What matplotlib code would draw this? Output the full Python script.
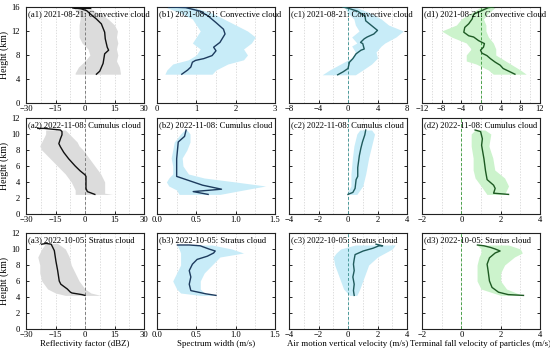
import matplotlib
matplotlib.use("Agg")
import matplotlib.pyplot as plt
from matplotlib.ticker import MultipleLocator

# === DATA ===
panel_titles = [
    ["(a1) 2021-08-21: Convective cloud", "(b1) 2021-08-21: Convective cloud",
     "(c1) 2021-08-21: Convective cloud", "(d1) 2021-08-21: Convective cloud"],
    ["(a2) 2022-11-08: Cumulus cloud", "(b2) 2022-11-08: Cumulus cloud",
     "(c2) 2022-11-08: Cumulus cloud", "(d2) 2022-11-08: Cumulus cloud"],
    ["(a3) 2022-10-05: Stratus cloud", "(b3) 2022-10-05: Stratus cloud",
     "(c3) 2022-10-05: Stratus cloud", "(d3) 2022-10-05: Stratus cloud"],
]
x_labels = ["Reflectivity factor (dBZ)", "Spectrum width (m/s)",
            "Air motion vertical velocity (m/s)",
            "Terminal fall velocity of particles (m/s)"]

# --- row 1: convective cloud ---
a1_line_h = [4.8, 5.3, 6.6, 8.2, 8.8, 9.3, 10.7, 11.8, 13.2, 14.0, 14.9, 15.4, 15.7, 15.9, 15.8, 16.0]
a1_line_x = [5.8, 7.5, 9.2, 10.0, 12.0, 11.3, 10.3, 10.0, 8.3, 5.8, 2.5, 0.8, -2.0, -6.5, 3.0, -5.0]
a1_band_h = [4.8, 5.0, 6.0, 7.0, 8.0, 9.0, 9.5, 10.0, 11.0, 12.0, 13.0, 14.0, 14.5, 15.0, 15.5, 16.0]
a1_band_lo = [-5.0, -5.0, -3.3, 0.0, 2.5, 1.5, 0.0, -1.5, -3.0, -3.0, -3.0, -2.5, -2.5, -3.5, -5.0, -6.0]
a1_band_hi = [18.0, 18.0, 17.5, 16.0, 16.7, 16.0, 16.3, 16.7, 16.0, 16.5, 15.0, 11.7, 9.5, 6.7, 4.0, 2.0]

b1_line_h = [4.8, 5.5, 6.0, 6.8, 7.1, 7.4, 7.9, 8.7, 9.3, 10.1, 11.5, 12.3, 13.4, 14.5, 15.3, 15.9, 16.0]
b1_line_x = [0.63, 0.78, 0.86, 0.90, 0.98, 1.19, 1.40, 1.50, 1.44, 1.60, 1.73, 1.69, 1.50, 1.30, 1.10, 0.73, 0.30]
b1_band_h = [4.8, 5.5, 6.5, 7.2, 8.0, 9.0, 10.0, 11.0, 12.0, 13.0, 14.0, 15.0, 16.0]
b1_band_lo = [0.20, 0.25, 0.40, 0.80, 1.00, 1.10, 0.90, 1.00, 1.10, 1.00, 0.90, 0.60, 0.20]
b1_band_hi = [1.40, 1.50, 1.80, 2.20, 2.30, 2.20, 2.40, 2.50, 2.30, 2.00, 1.70, 1.40, 0.90]

c1_line_h = [4.7, 5.2, 5.75, 6.8, 7.4, 8.2, 8.8, 9.0, 9.9, 10.1, 10.7, 11.0, 11.5, 12.1, 12.6, 13.2, 13.7, 14.5, 15.3, 15.8, 16.0]
c1_line_x = [-1.4, -0.66, 0.0, 0.2, 0.66, 1.1, 1.76, 2.2, 2.0, 1.7, 2.2, 2.6, 3.5, 4.0, 3.5, 2.9, 2.4, 2.3, 1.3, 0.0, -0.7]
c1_band_h = [4.7, 5.5, 6.5, 7.5, 8.5, 9.5, 10.0, 11.0, 12.0, 13.0, 14.0, 15.0, 16.0]
c1_band_lo = [-3.5, -2.5, -1.0, 0.5, 1.0, 0.5, 1.2, 0.5, 1.5, 1.0, 0.8, 0.0, -0.5]
c1_band_hi = [1.0, 2.0, 3.2, 4.0, 3.8, 4.5, 5.0, 6.5, 7.5, 5.5, 4.5, 3.0, 1.0]

d1_line_h = [4.8, 5.2, 5.75, 6.3, 6.8, 7.4, 7.9, 8.3, 8.8, 9.3, 9.9, 10.4, 11.0, 11.2, 11.8, 12.6, 13.2, 14.0, 14.8, 15.3, 15.9, 16.0]
d1_line_x = [6.9, 5.9, 4.5, 3.9, 2.9, 1.9, 1.2, 0.2, -0.1, 0.5, 0.7, -0.5, -1.5, -2.5, -3.5, -3.3, -2.5, -1.8, -1.5, -0.1, 1.5, 2.5]
d1_band_h = [4.8, 5.5, 6.5, 7.0, 8.0, 9.0, 10.0, 11.0, 12.0, 13.0, 14.0, 15.0, 16.0]
d1_band_lo = [2.5, 1.5, -1.0, -3.0, -3.0, -2.0, -3.0, -6.0, -8.0, -5.0, -4.0, -2.0, 0.0]
d1_band_hi = [9.2, 8.0, 6.0, 5.0, 3.0, 3.0, 2.5, 1.5, 1.0, 1.0, 0.5, 1.5, 3.0]

# --- row 2: cumulus cloud ---
a2_line_h = [2.45, 2.8, 3.2, 4.7, 4.9, 5.4, 6.0, 6.9, 7.7, 8.4, 8.8, 9.4, 9.9, 10.3, 10.5, 10.7, 10.7]
a2_line_x = [5.0, 1.2, 0.5, 0.5, 0.0, -2.5, -5.0, -8.3, -10.8, -12.5, -13.3, -12.5, -11.7, -11.7, -12.5, -20.8, -24.0]
a2_band_h = [2.45, 2.6, 3.0, 4.0, 5.0, 6.0, 7.0, 8.0, 8.5, 9.0, 10.0, 10.5]
a2_band_lo = [-5.0, -5.0, -5.0, -7.0, -10.0, -14.0, -18.0, -22.0, -23.0, -22.0, -20.0, -20.0]
a2_band_hi = [14.0, 10.0, 10.0, 10.0, 8.0, 5.0, 2.0, -1.0, -3.0, -4.0, -8.0, -10.0]

b2_line_h = [2.45, 2.8, 3.1, 3.6, 4.3, 4.7, 6.9, 9.0, 9.7, 10.5]
b2_line_x = [0.65, 0.46, 0.82, 0.58, 0.37, 0.25, 0.25, 0.27, 0.35, 0.37]
b2_band_h = [2.45, 3.0, 3.5, 4.0, 4.5, 5.0, 6.0, 7.0, 8.0, 9.0, 10.0, 10.5]
b2_band_lo = [0.28, 0.25, 0.15, 0.12, 0.15, 0.20, 0.20, 0.18, 0.20, 0.22, 0.30, 0.35]
b2_band_hi = [0.80, 1.10, 1.38, 1.00, 0.60, 0.40, 0.33, 0.32, 0.38, 0.42, 0.42, 0.38]

c2_line_h = [2.45, 2.7, 3.2, 4.3, 4.7, 5.8, 7.3, 8.2, 9.0, 9.9, 10.5]
c2_line_x = [0.0, 0.33, 0.48, 0.55, 0.66, 0.66, 0.77, 0.87, 0.98, 1.14, 1.2]
c2_band_h = [2.45, 3.5, 5.0, 7.0, 8.5, 10.0, 10.5]
c2_band_lo = [-0.1, 0.2, 0.2, 0.3, 0.4, 0.6, 0.8]
c2_band_hi = [0.6, 1.0, 1.2, 1.4, 1.6, 1.8, 1.6]

d2_line_h = [2.45, 2.6, 3.2, 3.6, 4.3, 5.4, 6.9, 8.6, 9.4, 10.3, 10.5]
d2_line_x = [2.4, 1.64, 1.72, 1.64, 1.31, 1.23, 1.15, 1.03, 1.07, 0.98, 0.7]
d2_band_h = [2.45, 3.5, 4.5, 5.5, 7.0, 8.5, 10.0, 10.5]
d2_band_lo = [1.3, 1.0, 0.7, 0.6, 0.6, 0.5, 0.5, 0.7]
d2_band_hi = [2.2, 2.4, 2.2, 1.7, 1.6, 1.4, 1.5, 1.2]

# --- row 3: stratus cloud ---
a3_line_h = [4.2, 4.3, 4.5, 4.6, 5.0, 5.6, 6.0, 7.3, 8.5, 9.8, 10.2, 10.6, 10.7, 10.6]
a3_line_x = [0.0, -1.6, -6.6, -7.4, -9.0, -12.3, -13.1, -13.9, -14.8, -15.6, -16.4, -17.2, -19.7, -22.0]
a3_band_h = [4.2, 4.5, 5.0, 6.0, 7.0, 8.0, 9.0, 10.0, 10.7]
a3_band_lo = [-10.0, -15.0, -19.0, -22.0, -23.0, -23.0, -24.0, -22.0, -20.0]
a3_band_hi = [8.0, 3.0, 0.0, -3.0, -5.0, -7.0, -8.0, -10.0, -14.0]

b3_line_h = [4.2, 4.4, 4.8, 5.6, 6.5, 7.3, 8.1, 8.7, 9.1, 9.5, 9.75, 10.0, 10.4, 10.5, 10.5]
b3_line_x = [0.75, 0.62, 0.43, 0.41, 0.43, 0.41, 0.45, 0.51, 0.64, 0.72, 0.74, 0.66, 0.55, 0.41, 0.26]
b3_band_h = [4.2, 4.5, 5.0, 6.0, 7.0, 8.0, 9.0, 9.5, 10.0, 10.5]
b3_band_lo = [0.55, 0.30, 0.25, 0.20, 0.25, 0.30, 0.30, 0.30, 0.28, 0.25]
b3_band_hi = [0.75, 0.60, 0.55, 0.55, 0.60, 0.70, 0.80, 1.10, 0.95, 0.70]

c3_line_h = [4.2, 4.8, 5.6, 6.5, 7.3, 8.1, 8.7, 9.3, 9.75, 10.1, 10.4, 10.4, 10.6]
c3_line_x = [0.42, 0.37, 0.42, 0.33, 0.42, 0.37, 0.42, 0.48, 1.03, 1.7, 2.1, 2.35, 1.9]
c3_band_h = [4.2, 5.0, 6.0, 7.0, 8.0, 9.0, 9.5, 10.0, 10.5]
c3_band_lo = [0.1, -0.3, -0.5, -0.7, -0.9, -1.0, -0.8, -0.5, 0.5]
c3_band_hi = [0.6, 0.8, 1.0, 1.2, 1.4, 2.0, 2.5, 3.0, 3.2]

d3_line_h = [4.2, 4.3, 4.6, 5.2, 6.0, 7.3, 8.1, 8.9, 9.5, 9.75, 10.0, 10.2, 10.4, 10.5]
d3_line_x = [3.16, 2.38, 1.89, 1.56, 1.43, 1.36, 1.31, 1.43, 1.72, 1.97, 1.72, 1.48, 1.15, 0.82]
d3_band_h = [4.2, 5.0, 6.0, 7.0, 8.0, 9.0, 9.5, 10.0, 10.5]
d3_band_lo = [2.0, 1.0, 0.8, 0.8, 0.8, 0.9, 1.0, 1.0, 0.8]
d3_band_hi = [3.1, 2.3, 2.0, 2.0, 2.2, 2.7, 3.1, 3.0, 2.4]

lines = [
    [(a1_line_x, a1_line_h), (b1_line_x, b1_line_h), (c1_line_x, c1_line_h), (d1_line_x, d1_line_h)],
    [(a2_line_x, a2_line_h), (b2_line_x, b2_line_h), (c2_line_x, c2_line_h), (d2_line_x, d2_line_h)],
    [(a3_line_x, a3_line_h), (b3_line_x, b3_line_h), (c3_line_x, c3_line_h), (d3_line_x, d3_line_h)],
]
bands = [
    [(a1_band_h, a1_band_lo, a1_band_hi), (b1_band_h, b1_band_lo, b1_band_hi),
     (c1_band_h, c1_band_lo, c1_band_hi), (d1_band_h, d1_band_lo, d1_band_hi)],
    [(a2_band_h, a2_band_lo, a2_band_hi), (b2_band_h, b2_band_lo, b2_band_hi),
     (c2_band_h, c2_band_lo, c2_band_hi), (d2_band_h, d2_band_lo, d2_band_hi)],
    [(a3_band_h, a3_band_lo, a3_band_hi), (b3_band_h, b3_band_lo, b3_band_hi),
     (c3_band_h, c3_band_lo, c3_band_hi), (d3_band_h, d3_band_lo, d3_band_hi)],
]

# axis limits and tick spacing per row/column
x_limits = [
    [(-30, 30), (0, 3), (-8, 8), (-12, 12)],
    [(-30, 30), (0, 1.5), (-4, 4), (-2, 4)],
    [(-30, 30), (0, 1.5), (-4, 4), (-2, 4)],
]
x_major = [[15, 1, 4, 4], [15, 0.5, 2, 2], [15, 0.5, 2, 2]]
y_limits = [(0, 16), (0, 12), (0, 12)]
y_major = [4, 2, 2]

# === STYLE ===
line_colors = ["#111111", "#1d3b5e", "#1f5a5c", "#1d5a22"]
fill_colors = ["#dcdcdc", "#c8ecf8", "#c8ecf8", "#ccf3cc"]
zero_colors = ["#808080", None, "#4a9a9a", "#4aa24a"]

plt.rcParams['font.family'] = ['Liberation Serif', 'DejaVu Serif']

W, H = 550, 354
fig = plt.figure(figsize=(W / 100, H / 100), dpi=100)

col_left = [26, 157, 289, 422]
col_width = 118
row_bottom = [103, 214, 329]
row_height = 96

for r in range(3):
    for c in range(4):
        ax = fig.add_axes([col_left[c] / W, 1 - row_bottom[r] / H,
                           col_width / W, row_height / H])
        bh, lo, hi = bands[r][c]
        ax.fill_betweenx(bh, lo, hi, color=fill_colors[c], lw=0, zorder=1)
        lx, lh = lines[r][c]
        ax.plot(lx, lh, color=line_colors[c], lw=1.0, zorder=3)
        if zero_colors[c] is not None:
            ax.axvline(0, color=zero_colors[c], lw=0.7, ls=(0, (3, 2)), zorder=2)

        ax.set_xlim(*x_limits[r][c])
        ax.set_ylim(*y_limits[r])
        ax.xaxis.set_major_locator(MultipleLocator(x_major[r][c]))
        ax.xaxis.set_minor_locator(MultipleLocator(x_major[r][c] / 2))
        ax.yaxis.set_major_locator(MultipleLocator(y_major[r]))
        ax.grid(axis='x', which='both', color='#d0d0d0', lw=0.5, ls=(0, (2, 2)), zorder=0)
        ax.set_axisbelow(True)
        ax.tick_params(which='both', direction='in', length=2.5, width=0.6,
                       labelsize=6.2, pad=1.5, left=True, right=True, top=False)
        ax.tick_params(axis='y', pad=4.5)
        ax.tick_params(which='minor', length=0)
        if c == 1:
            fmt = "{:.0f}" if r == 0 else "{:.1f}"
            ax.set_xticks(ax.get_xticks())
            ax.set_xticklabels([fmt.format(v) for v in ax.get_xticks()])
            ax.set_xlim(*x_limits[r][c])
        for sp in ax.spines.values():
            sp.set_linewidth(0.8)
            sp.set_color('#222222')
        if c == 0:
            ax.set_ylabel("Height (km)", fontsize=7, labelpad=1.5)
        else:
            ax.set_yticklabels([])
        if r == 2:
            ax.set_xlabel(x_labels[c], fontsize=6.4, labelpad=1)
        ax.text(0.015, 0.97, panel_titles[r][c], transform=ax.transAxes,
                fontsize=6.2, va='top', ha='left', zorder=4)

fig.savefig("out.png", dpi=100)
